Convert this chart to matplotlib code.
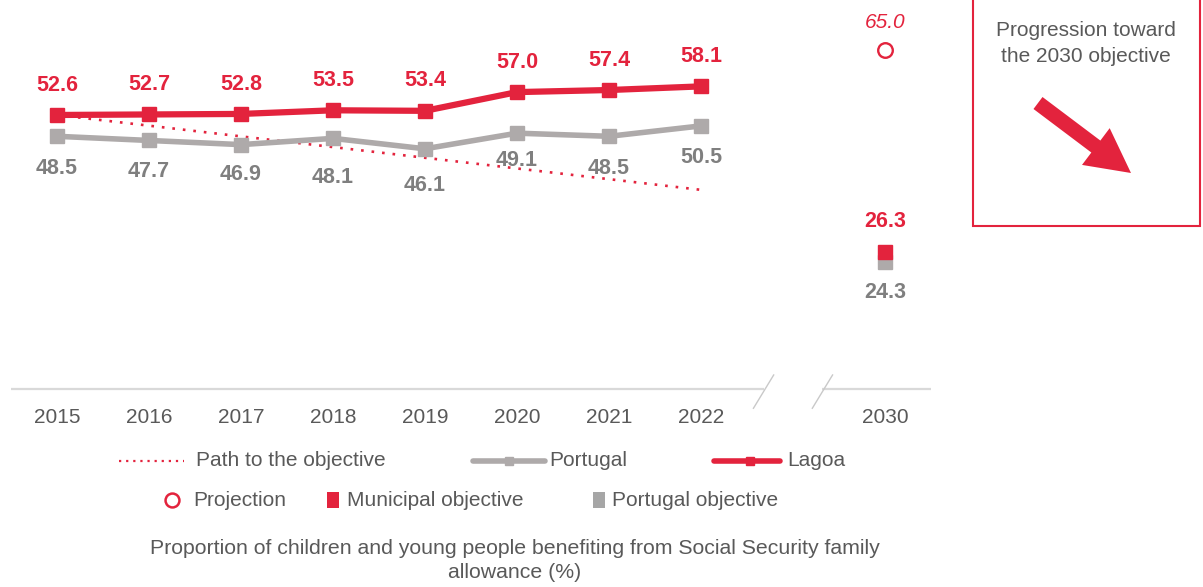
import matplotlib
matplotlib.use("Agg")
import matplotlib.pyplot as plt
from matplotlib.lines import Line2D
from matplotlib.patches import Rectangle, FancyArrow

plt.rcParams["font.family"] = ["Liberation Sans", "DejaVu Sans"]

# ---- data -------------------------------------------------------------
years = ["2015", "2016", "2017", "2018", "2019", "2020", "2021", "2022"]
target_year = "2030"
lagoa = [52.6, 52.7, 52.8, 53.5, 53.4, 57.0, 57.4, 58.1]
portugal = [48.5, 47.7, 46.9, 48.1, 46.1, 49.1, 48.5, 50.5]
path_years = ["2015", "2022"]
path_values = [52.6, 38.2]
projection_2030 = 65.0
municipal_objective = 26.3
portugal_objective = 24.3

# ---- style --------------------------------------------------------------
RED = "#E3233D"
GRAY_LINE = "#AEAAAA"
GRAY_TXT = "#7F7F7F"
DARK_TXT = "#595959"
AXIS = "#D9D9D9"

# category positions: the 2030 slot sits two steps after 2022
pos = {y: i for i, y in enumerate(years)}
pos[target_year] = len(years) + 1
x_hist = [pos[y] for y in years]
x_path = [pos[y] for y in path_years]
x_goal = pos[target_year]

W, H = 1203, 587
fig = plt.figure(figsize=(W / 100, H / 100), dpi=100)

# overlay in pixel coordinates for the legend, caption and side panel
ov = fig.add_axes([0, 0, 1, 1], zorder=0)
ov.set_xlim(0, W)
ov.set_ylim(H, 0)
ov.axis("off")

ax_bottom = 388.5
ax = fig.add_axes([11 / W, 1 - ax_bottom / H, 920 / W, ax_bottom / H], zorder=1)
ax.patch.set_alpha(0)
ax.set_xlim(-0.5, x_goal + 0.5)
ax.set_ylim(0, ax_bottom / 5.2)
for s in ax.spines.values():
    s.set_visible(False)
ax.set_yticks([])
ax.set_xticks(x_hist + [x_goal])
ax.set_xticklabels(years + [target_year], fontsize=15, color=DARK_TXT)
ax.tick_params(axis="x", length=0, pad=14)

# broken baseline
brk_l, brk_r = 7.68, 8.32
ax.plot([-0.5, brk_l], [0, 0], color=AXIS, lw=1.6, clip_on=False, solid_capstyle="butt")
ax.plot([brk_r, x_goal + 0.5], [0, 0], color=AXIS, lw=1.6, clip_on=False, solid_capstyle="butt")
for xb in (brk_l, brk_r):
    ax.plot([xb - 0.11, xb + 0.11], [-3.8, 2.6], color="#C9C9C9", lw=1.0, clip_on=False)

# path to objective
ax.plot(x_path, path_values, color=RED, lw=1.9, linestyle=(0, (1, 3.0)), zorder=2)

# Portugal
ax.plot(x_hist, portugal, color=GRAY_LINE, lw=4.0, marker="s", markersize=10,
        markerfacecolor=GRAY_LINE, markeredgecolor=GRAY_LINE, zorder=3)
# Lagoa
ax.plot(x_hist, lagoa, color=RED, lw=4.5, marker="s", markersize=10,
        markerfacecolor=RED, markeredgecolor=RED, zorder=4)

pt_label_dy = [-23, -22.5, -21.5, -28, -26.5, -19.5, -23, -23]
for x, v, dy in zip(x_hist, portugal, pt_label_dy):
    ax.annotate(f"{v:.1f}", (x, v), xytext=(0, dy), textcoords="offset points",
                ha="center", va="center", fontsize=15.5, fontweight="bold", color=GRAY_TXT)
for x, v in zip(x_hist, lagoa):
    ax.annotate(f"{v:.1f}", (x, v), xytext=(0, 21.5), textcoords="offset points",
                ha="center", va="center", fontsize=15.5, fontweight="bold", color=RED)

# 2030 values
ax.plot([x_goal], [portugal_objective], marker="s", markersize=10, color=GRAY_LINE,
        linestyle="none", zorder=3)
ax.plot([x_goal], [municipal_objective], marker="s", markersize=10, color=RED,
        linestyle="none", zorder=4)
ax.plot([x_goal], [projection_2030], marker="o", markersize=10.5, markerfacecolor="white",
        markeredgecolor=RED, markeredgewidth=1.7, linestyle="none", zorder=4)
ax.annotate(f"{municipal_objective:.1f}", (x_goal, municipal_objective), xytext=(0, 22),
            textcoords="offset points", ha="center", va="center", fontsize=15.5,
            fontweight="bold", color=RED)
ax.annotate(f"{portugal_objective:.1f}", (x_goal, portugal_objective), xytext=(0, -22),
            textcoords="offset points", ha="center", va="center", fontsize=15.5,
            fontweight="bold", color=GRAY_TXT)
ax.annotate(f"{projection_2030:.1f}", (x_goal, projection_2030), xytext=(0, 20.5),
            textcoords="offset points", ha="center", va="center", fontsize=15,
            style="italic", color=RED)

# ---- legend -------------------------------------------------------------
r1, r2 = 461, 500
leg_fs = 15
ov.add_line(Line2D([119, 184], [r1, r1], color=RED, lw=1.6, linestyle=(0, (1, 2.2))))
ov.text(196, r1, "Path to the objective", fontsize=leg_fs, color=DARK_TXT, va="center")
ov.add_line(Line2D([473, 545], [r1, r1], color=GRAY_LINE, lw=4.0, solid_capstyle="round"))
ov.add_line(Line2D([509], [r1], marker="s", markersize=6, color=GRAY_LINE))
ov.text(549, r1, "Portugal", fontsize=leg_fs, color=DARK_TXT, va="center")
ov.add_line(Line2D([714, 780], [r1, r1], color=RED, lw=4.0, solid_capstyle="round"))
ov.add_line(Line2D([750], [r1], marker="s", markersize=6, color=RED))
ov.text(787, r1, "Lagoa", fontsize=leg_fs, color=DARK_TXT, va="center")

ov.add_line(Line2D([172], [r2], marker="o", markersize=10, markerfacecolor="white",
                   markeredgecolor=RED, markeredgewidth=1.8))
ov.text(193, r2, "Projection", fontsize=leg_fs, color=DARK_TXT, va="center")
ov.add_patch(Rectangle((327, r2 - 8), 12, 16, color=RED, lw=0))
ov.text(347, r2, "Municipal objective", fontsize=leg_fs, color=DARK_TXT, va="center")
ov.add_patch(Rectangle((593, r2 - 8), 12, 16, color="#A6A6A6", lw=0))
ov.text(612, r2, "Portugal objective", fontsize=leg_fs, color=DARK_TXT, va="center")

# caption
ov.text(515, 549, "Proportion of children and young people benefiting from Social Security family",
        fontsize=15.3, color=DARK_TXT, ha="center", va="center")
ov.text(515, 573, "allowance (%)", fontsize=15.3, color=DARK_TXT, ha="center", va="center")

# ---- side panel ---------------------------------------------------------
ov.add_patch(Rectangle((973, -5), 227, 231, fill=False, edgecolor=RED, lw=1.5))
ov.text(1086, 30, "Progression toward", fontsize=15, color=DARK_TXT, ha="center", va="center")
ov.text(1086, 57, "the 2030 objective", fontsize=15, color=DARK_TXT, ha="center", va="center")
ov.add_patch(FancyArrow(1038, 103, 93, 70, width=15, head_width=46, head_length=44,
                        length_includes_head=True, color=RED, lw=0))

fig.savefig("out.png", dpi=100)
